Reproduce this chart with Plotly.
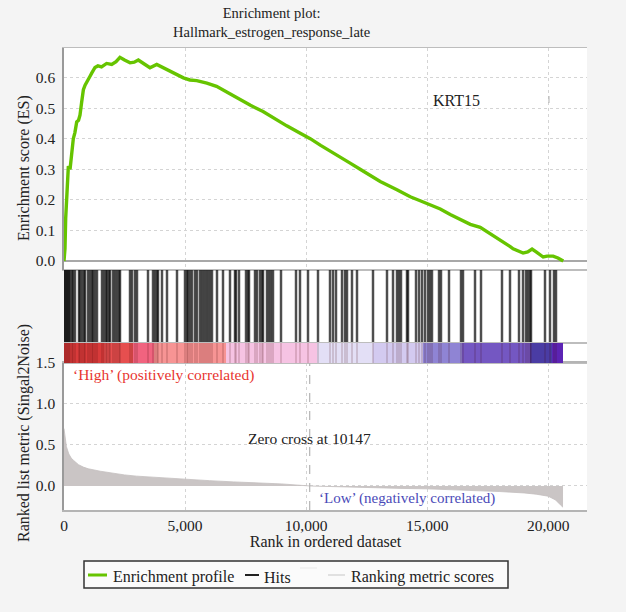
import plotly.graph_objects as go

# ---- data -------------------------------------------------------------
TITLE = "Enrichment plot:<br>Hallmark_estrogen_response_late"
GENE_LABEL = "KRT15"
ZERO_CROSS = 10147

# running enrichment score
es_rank = [0, 40, 70, 110, 140, 180, 250, 320, 385, 450, 525, 600, 660, 730, 800,
           870, 935, 1000, 1075, 1150, 1280, 1400, 1550, 1760, 1970, 2150, 2310,
           2500, 2730, 2900, 3070, 3300, 3550, 3830, 4100, 4520, 4930, 5200, 5480,
           5900, 6300, 6850, 7270, 7700, 8220, 8700, 9200, 9700, 10170, 10600,
           11000, 11400, 11800, 12230, 12650, 13060, 13750, 14300, 14710, 15115,
           15540, 15950, 16360, 16780, 17190, 17600, 18020, 18430, 18550, 18960,
           19150, 19330, 19500, 19790, 19950, 20200, 20400, 20620]
es_score = [0.0, 0.04, 0.14, 0.21, 0.24, 0.31, 0.30, 0.36, 0.40, 0.42, 0.455, 0.46,
            0.477, 0.52, 0.56, 0.575, 0.583, 0.59, 0.604, 0.615, 0.633, 0.638,
            0.635, 0.646, 0.643, 0.652, 0.666, 0.657, 0.648, 0.65, 0.657, 0.645,
            0.632, 0.643, 0.632, 0.617, 0.599, 0.592, 0.59, 0.582, 0.571, 0.547,
            0.528, 0.509, 0.489, 0.465, 0.442, 0.42, 0.40, 0.378, 0.36, 0.341,
            0.321, 0.30, 0.28, 0.26, 0.233, 0.21, 0.197, 0.184, 0.17, 0.152,
            0.135, 0.12, 0.11, 0.09, 0.068, 0.047, 0.04, 0.026, 0.03, 0.039,
            0.03, 0.013, 0.016, 0.016, 0.01, 0.0]

# positions of gene-set members in the ranked list
hit_rank = [0, 41, 83, 124, 165, 207, 248, 330, 372, 454, 620, 661, 743, 826, 867,
            991, 1074, 1156, 1198, 1280, 1363, 1569, 1652, 1735, 1776, 1859, 1900,
            2024, 2106, 2189, 2272, 2313, 2726, 2808, 2932, 3015, 3469, 3676, 3758,
            3841, 3882, 4047, 4254, 4667, 4997, 5080, 5121, 5204, 5286, 5410, 5493,
            5617, 5699, 5782, 5865, 5947, 6030, 6112, 6319, 6567, 6856, 7062, 7104,
            7228, 7517, 7599, 7641, 7888, 7971, 8095, 8178, 8219, 8384, 8467, 8550,
            8632, 8962, 9582, 9747, 10077, 10490, 10986, 11110, 11234, 11481, 11605,
            11688, 11894, 12101, 12762, 13340, 13588, 13753, 13836, 13918, 14166,
            14207, 14538, 14662, 14785, 14909, 15033, 15116, 15198, 15488, 15570,
            15901, 16396, 16479, 16975, 17222, 18089, 18420, 18791, 18957, 19081,
            19163, 19246, 19287, 19865, 20072, 20237, 20320]

# ranked list metric (signal-to-noise)
metric_rank = [0, 20, 50, 100, 200, 300, 400, 600, 800, 1000, 1500, 2000, 2500,
               3000, 4000, 5000, 6000, 7000, 8000, 9000, 10147, 11000, 12000, 13000,
               14000, 15000, 16000, 17000, 18000, 19000, 19500, 20000, 20300, 20500,
               20610]
metric_value = [0.70, 0.66, 0.57, 0.48, 0.39, 0.34, 0.31, 0.26, 0.23, 0.21, 0.18,
                0.155, 0.135, 0.12, 0.10, 0.08, 0.065, 0.05, 0.038, 0.025, 0.0,
                -0.008, -0.015, -0.022, -0.03, -0.035, -0.045, -0.055, -0.068,
                -0.085, -0.1, -0.125, -0.17, -0.23, -0.26]

# colour band along the ranked list
band_start = [0, 1650, 2850, 3700, 6690, 10450, 12760, 14830, 16440, 19250, 20150]
band_end = [1650, 2850, 3700, 6690, 10450, 12760, 14830, 16440, 19250, 20150, 20610]
band_color = ["#d93b3b", "#e64f4f", "#f1637f", "#f79494", "#f6c3e3", "#e3dff6",
              "#d3caf0", "#8f84d4", "#7457c2", "#4a3ca4", "#5c24b4"]

x_ticks = [0, 5000, 10000, 15000, 20000]
x_tick_text = ["0", "5,000", "10,000", "15,000", "20,000"]
es_ticks = [0.0, 0.1, 0.2, 0.3, 0.4, 0.5, 0.6]
metric_ticks = [0.0, 0.5, 1.0, 1.5]

legend_names = ["Enrichment profile", "Hits", "", "Ranking metric scores"]

# ---- styling ------------------------------------------------------------
FONT = "Liberation Serif"
GREEN = "#66c400"
GRID = "#d4d4d4"
FRAME = "#bdbdbd"
W, H = 626, 612


def px(x):
    return x / W


def py(y):
    return 1 - y / H


fig = go.Figure()

# hits panel: one vertical line per gene-set member (drawn past both edges,
# the subplot clips them flush with the panel)
hx, hy = [], []
for r in hit_rank:
    hx += [r, r, None]
    hy += [-0.1, 1.1, None]
fig.add_trace(go.Scatter(x=hx, y=hy, mode="lines", xaxis="x3", yaxis="y3",
                         line=dict(color="rgba(0,0,0,0.33)", width=3),
                         hoverinfo="skip", showlegend=False))
fig.add_trace(go.Scatter(x=hx, y=hy, mode="lines", xaxis="x3", yaxis="y3",
                         line=dict(color="#111111", width=1.2),
                         name="Hits", showlegend=False))

# colour band
fig.add_trace(go.Bar(
    x=[(s + e) / 2 for s, e in zip(band_start, band_end)],
    y=[1] * len(band_start),
    width=[e - s for s, e in zip(band_start, band_end)],
    marker=dict(color=band_color, line=dict(width=0)),
    xaxis="x4", yaxis="y4", showlegend=False, hoverinfo="skip"))
# faint hit traces visible through the band
fig.add_trace(go.Scatter(x=hx, y=hy, mode="lines", xaxis="x4", yaxis="y4",
                         line=dict(color="rgba(60,0,0,0.15)", width=2),
                         hoverinfo="skip", showlegend=False))

# running enrichment score
fig.add_trace(go.Scatter(x=es_rank, y=es_score, mode="lines", xaxis="x2", yaxis="y2",
                         line=dict(color=GREEN, width=3.4),
                         name="Enrichment profile", showlegend=False))
fig.add_trace(go.Scatter(x=[20030], y=[0.528], mode="markers", xaxis="x2", yaxis="y2",
                         marker=dict(symbol="line-ns", size=5,
                                     line=dict(color="#b0b0b0", width=1)),
                         hoverinfo="skip", showlegend=False))

# ranked list metric
fig.add_trace(go.Scatter(x=metric_rank, y=metric_value, mode="lines", fill="tozeroy",
                         fillcolor="#cac5c5", line=dict(color="#c4bfbf", width=0.8),
                         xaxis="x", yaxis="y", showlegend=False))

XD = [px(64), px(587)]
XRANGE = [0, 21600]


def ydom(top_px, bottom_px):
    return [py(bottom_px), py(top_px)]


tickfont = dict(family=FONT, size=15.5, color="#222222")
common_x = dict(domain=XD, range=XRANGE, showline=True, linecolor=FRAME, linewidth=1,
                mirror=True, ticks="", zeroline=False, automargin=False)

# legend box drawn beneath the chart
legend_shapes = [dict(type="rect", xref="paper", yref="paper",
                      x0=px(84), x1=px(508), y0=py(588), y1=py(561),
                      line=dict(color="#333333", width=1.5), fillcolor="#fbfbfb",
                      layer="below")]
legend_swatches = [(88, 107, 575, GREEN, 3), (245, 259, 575, "#222222", 2),
                   (300, 317, 568, "#ececec", 1.2), (328, 345, 575, "#d0d0d0", 1.2)]
for x0, x1, yy, col, lw in legend_swatches:
    legend_shapes.append(dict(type="line", xref="paper", yref="paper",
                              x0=px(x0), x1=px(x1), y0=py(yy), y1=py(yy),
                              line=dict(color=col, width=lw)))
legend_text_x = [111, 262, None, 349]
legend_annotations = [dict(text=t, xref="paper", yref="paper", x=px(x), y=py(577),
                           xanchor="left", yanchor="middle", showarrow=False,
                           font=dict(family=FONT, size=16))
                      for t, x in zip(legend_names, legend_text_x) if t]

fig.update_layout(
    width=W, height=H,
    margin=dict(l=0, r=0, t=0, b=0, pad=0, autoexpand=False),
    paper_bgcolor="#f4f4f4", plot_bgcolor="#ffffff",
    font=dict(family=FONT, size=15, color="#222222"),
    bargap=0, showlegend=False,
    xaxis=dict(**{**common_x, "linewidth": 1.8, "linecolor": "#b4b4b4"}, anchor="y",
               tickvals=x_ticks, ticktext=x_tick_text,
               tickfont=tickfont, showgrid=True, gridcolor=GRID, griddash="dot",
               title=dict(text="Rank in ordered dataset",
                          font=dict(family=FONT, size=16), standoff=3)),
    yaxis=dict(domain=ydom(363, 510), range=[-0.293, 1.5], tickvals=metric_ticks,
               ticktext=["0.0", "0.5", "1.0", "1.5"], tickfont=tickfont,
               showgrid=True, gridcolor=GRID, griddash="dot", zeroline=False,
               showline=True, linecolor="#9a9a9a", linewidth=1.5, ticks="",
               ticklabelstandoff=4, automargin=False),
    xaxis2=dict(**common_x, anchor="y2", matches="x", showticklabels=False,
                tickvals=x_ticks, showgrid=True, gridcolor=GRID, griddash="dot"),
    yaxis2=dict(domain=ydom(48, 270), range=[-0.0294, 0.6965], tickvals=es_ticks,
                ticktext=["%.1f" % v for v in es_ticks], tickfont=tickfont,
                showgrid=True, gridcolor=GRID, griddash="dot",
                zeroline=True, zerolinecolor="#a8a8a8", zerolinewidth=1.5,
                showline=True, linecolor="#9a9a9a", linewidth=1.5, ticks="",
                ticklabelstandoff=4, automargin=False),
    xaxis3=dict(**common_x, anchor="y3", matches="x", showticklabels=False,
                showgrid=False),
    yaxis3=dict(domain=ydom(270, 343), range=[0, 1], showticklabels=False,
                showgrid=False, zeroline=False, showline=False, fixedrange=True,
                automargin=False),
    xaxis4=dict(**common_x, anchor="y4", matches="x", showticklabels=False,
                showgrid=False),
    yaxis4=dict(domain=ydom(343, 363), range=[0, 1], showticklabels=False,
                showgrid=False, zeroline=False, showline=False, fixedrange=True,
                automargin=False),
    shapes=[dict(type="line", xref="x", yref="y domain", x0=ZERO_CROSS, x1=ZERO_CROSS,
                 y0=0, y1=1, line=dict(color="#b4b4b4", width=1.2, dash="dash"))]
           + legend_shapes,
    annotations=[
        dict(text=TITLE, xref="paper", yref="paper", x=px(271), y=py(23),
             xanchor="center", yanchor="middle", showarrow=False,
             font=dict(family=FONT, size=14.5)),
        dict(text="Enrichment score (ES)", xref="paper", yref="paper",
             x=px(24), y=py(168), xanchor="center", yanchor="middle",
             textangle=-90, showarrow=False, font=dict(family=FONT, size=16)),
        dict(text="Ranked list metric (Singal2Noise)", xref="paper", yref="paper",
             x=px(24), y=py(433), xanchor="center", yanchor="middle",
             textangle=-90, showarrow=False, font=dict(family=FONT, size=16)),
        dict(text=GENE_LABEL, xref="x2", yref="y2", x=16230, y=0.525,
             showarrow=False, font=dict(family=FONT, size=16)),
        dict(text="\u2018High\u2019 (positively correlated)", xref="paper", yref="paper",
             x=px(71), y=py(375), xanchor="left", yanchor="middle", showarrow=False,
             font=dict(family=FONT, size=15.5, color="#e8352f")),
        dict(text="Zero cross at " + str(ZERO_CROSS), xref="x", yref="y",
             x=ZERO_CROSS, y=0.58, showarrow=False,
             font=dict(family=FONT, size=15.5)),
        dict(text="\u2018Low\u2019 (negatively correlated)", xref="x", yref="y",
             x=10450, y=-0.15, xanchor="left", showarrow=False,
             font=dict(family=FONT, size=15, color="#4a4ab8")),
    ] + legend_annotations,
)

fig.write_html("out.html")
